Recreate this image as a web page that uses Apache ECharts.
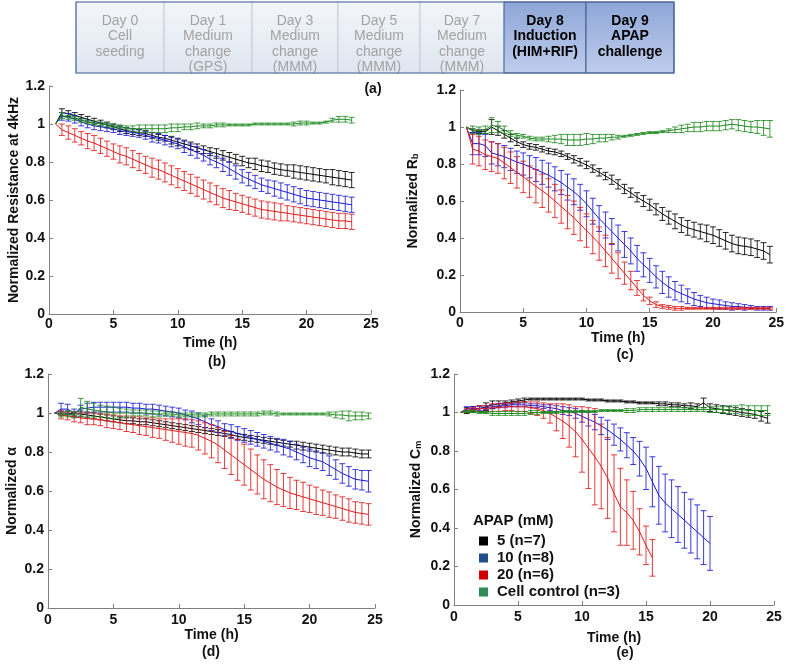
<!DOCTYPE html>
<html>
<head>
<meta charset="utf-8">
<script src="https://cdn.jsdelivr.net/npm/echarts@6/dist/echarts.min.js"></script>
<style>html,body{margin:0;padding:0;background:#fff;}#c{width:787px;height:669px;}</style>
</head>
<body>
<div id="c"></div>
<script>
// ---------- DATA ----------
const tFull = [0.5,1,1.5,2,2.5,3,3.5,4,4.5,5,
  5.5,6,6.5,7,7.5,8,8.5,9,9.5,10,
  10.5,11,11.5,12,12.5,13,13.5,14,14.5,15,
  15.5,16,16.5,17,17.5,18,18.5,19,19.5,20,
  20.5,21,21.5,22,22.5,23,23.5,24,24.5];

const seriesNames = ['5 (n=7)','10 (n=8)','20 (n=6)','Cell control (n=3)'];
const stages = [
  ['Day 0','Cell','seeding'],
  ['Day 1','Medium','change','(GPS)'],
  ['Day 3','Medium','change','(MMM)'],
  ['Day 5','Medium','change','(MMM)'],
  ['Day 7','Medium','change','(MMM)'],
  ['Day 8','Induction','(HIM+RIF)'],
  ['Day 9','APAP','challenge']
];
const xTicks = [0,5,10,15,20,25];
const yTicks = [0,0.2,0.4,0.6,0.8,1,1.2];

// (b) Normalized resistance at 4 kHz, 0.5..23.5 h
const b_black = [1.00,1.06,1.055,1.045,1.035,1.025,1.015,1.005,0.995,0.985,
  0.975,0.965,0.96,0.955,0.95,0.94,0.93,0.925,0.915,0.905,
  0.895,0.885,0.875,0.865,0.855,0.845,0.835,0.825,0.815,0.805,
  0.795,0.79,0.78,0.775,0.765,0.76,0.755,0.75,0.745,0.74,
  0.735,0.73,0.725,0.72,0.715,0.71,0.705];
const b_black_err = [0,0.02,0.015,0.015,0.015,0.015,0.015,0.015,0.015,0.015,
  0.015,0.015,0.015,0.015,0.015,0.015,0.015,0.015,0.02,0.02,
  0.02,0.02,0.02,0.02,0.02,0.025,0.025,0.025,0.025,0.025,
  0.025,0.03,0.03,0.03,0.03,0.03,0.03,0.035,0.035,0.035,
  0.035,0.035,0.035,0.04,0.04,0.04,0.04];
const b_blue = [1.00,1.04,1.035,1.025,1.01,1.0,0.99,0.985,0.98,0.975,
  0.965,0.96,0.955,0.95,0.94,0.93,0.925,0.915,0.905,0.895,
  0.88,0.865,0.85,0.835,0.815,0.8,0.785,0.765,0.745,0.725,
  0.71,0.695,0.68,0.67,0.66,0.65,0.64,0.63,0.62,0.61,
  0.605,0.6,0.595,0.59,0.585,0.58,0.575];
const b_blue_err = [0,0.02,0.02,0.02,0.02,0.02,0.02,0.02,0.02,0.02,
  0.02,0.02,0.02,0.02,0.02,0.025,0.025,0.025,0.025,0.025,
  0.03,0.03,0.03,0.03,0.03,0.03,0.035,0.035,0.035,0.035,
  0.035,0.035,0.035,0.035,0.04,0.04,0.04,0.04,0.04,0.04,
  0.04,0.04,0.04,0.04,0.04,0.04,0.04];
const b_red = [1.00,0.97,0.955,0.94,0.925,0.91,0.9,0.885,0.87,0.855,
  0.84,0.83,0.815,0.8,0.785,0.77,0.76,0.745,0.73,0.715,
  0.7,0.685,0.67,0.655,0.64,0.625,0.61,0.6,0.59,0.58,
  0.57,0.56,0.55,0.545,0.54,0.535,0.53,0.525,0.52,0.515,
  0.51,0.505,0.5,0.495,0.49,0.49,0.485];
const b_red_err = [0,0.03,0.035,0.035,0.035,0.04,0.04,0.04,0.04,0.04,
  0.045,0.045,0.045,0.045,0.045,0.05,0.05,0.05,0.05,0.05,
  0.05,0.05,0.05,0.05,0.05,0.05,0.05,0.05,0.045,0.045,
  0.045,0.045,0.045,0.045,0.045,0.045,0.04,0.04,0.04,0.04,
  0.04,0.04,0.04,0.04,0.04,0.04,0.04];
const b_green = [1.00,1.045,1.035,1.03,1.02,1.01,1.005,1.0,0.995,0.99,
  0.985,0.98,0.975,0.975,0.975,0.975,0.975,0.975,0.98,0.98,
  0.985,0.985,0.99,0.99,0.99,0.995,0.995,0.995,0.995,0.995,
  0.995,1.0,1.0,1.0,1.0,1.0,1.0,1.0,1.005,1.005,
  1.005,1.005,1.01,1.02,1.025,1.025,1.02];
const b_green_err = [0,0.015,0.01,0.01,0.01,0.01,0.01,0.01,0.01,0.01,
  0.01,0.01,0.015,0.02,0.02,0.02,0.02,0.02,0.02,0.02,
  0.015,0.015,0.015,0.01,0.01,0.01,0.01,0.005,0.005,0.005,
  0.005,0.005,0.005,0.005,0.005,0.005,0.005,0.01,0.01,0.01,
  0.005,0.005,0.005,0.01,0.015,0.015,0.015];

// (c) Normalized Rb, 0.5..24.5 h
const c_black = [1.00,0.98,0.975,0.975,1.0,0.98,0.96,0.94,0.92,0.905,
  0.895,0.89,0.88,0.87,0.865,0.855,0.84,0.825,0.81,0.795,
  0.775,0.755,0.735,0.715,0.69,0.665,0.645,0.62,0.6,0.58,
  0.555,0.53,0.51,0.49,0.47,0.455,0.445,0.435,0.425,0.415,
  0.4,0.385,0.37,0.36,0.355,0.35,0.34,0.33,0.31];
const c_black_err = [0,0.01,0.01,0.01,0.04,0.025,0.02,0.02,0.02,0.015,
  0.015,0.015,0.015,0.015,0.015,0.015,0.015,0.02,0.02,0.02,
  0.02,0.02,0.02,0.025,0.025,0.025,0.025,0.025,0.03,0.03,
  0.03,0.035,0.035,0.04,0.04,0.04,0.04,0.04,0.045,0.045,
  0.045,0.045,0.045,0.045,0.045,0.045,0.045,0.045,0.045];
const c_blue = [1.00,0.91,0.91,0.9,0.86,0.85,0.84,0.825,0.81,0.8,
  0.785,0.77,0.755,0.74,0.72,0.7,0.675,0.65,0.62,0.585,
  0.545,0.505,0.47,0.435,0.4,0.365,0.33,0.29,0.255,0.225,
  0.19,0.16,0.135,0.115,0.1,0.085,0.07,0.06,0.05,0.045,
  0.04,0.035,0.03,0.03,0.025,0.025,0.02,0.02,0.02];
const c_blue_err = [0,0.06,0.06,0.06,0.06,0.06,0.06,0.06,0.06,0.06,
  0.06,0.065,0.065,0.065,0.065,0.065,0.07,0.07,0.07,0.07,
  0.07,0.07,0.07,0.07,0.07,0.07,0.07,0.07,0.065,0.065,
  0.06,0.06,0.055,0.05,0.045,0.04,0.035,0.03,0.03,0.025,
  0.025,0.02,0.02,0.015,0.015,0.01,0.01,0.01,0.01];
const c_red = [1.00,0.88,0.87,0.85,0.84,0.83,0.805,0.78,0.755,0.73,
  0.705,0.68,0.655,0.63,0.6,0.57,0.54,0.51,0.475,0.44,
  0.405,0.37,0.33,0.29,0.25,0.21,0.17,0.13,0.09,0.06,
  0.04,0.03,0.025,0.02,0.02,0.02,0.02,0.02,0.02,0.02,
  0.02,0.02,0.02,0.02,0.02,0.02,0.02,0.02,0.02];
const c_red_err = [0,0.08,0.08,0.08,0.08,0.08,0.085,0.085,0.085,0.085,
  0.085,0.09,0.09,0.09,0.09,0.09,0.09,0.09,0.09,0.09,
  0.09,0.09,0.085,0.08,0.07,0.06,0.05,0.04,0.03,0.02,
  0.015,0.01,0.01,0.01,0.01,0.005,0.005,0.005,0.005,0.005,
  0.005,0.005,0.005,0.005,0.005,0.005,0.005,0.005,0.005];
const c_green = [1.00,0.985,0.98,0.985,1.01,1.0,0.985,0.965,0.955,0.95,
  0.94,0.935,0.935,0.935,0.935,0.935,0.93,0.93,0.93,0.935,
  0.935,0.94,0.94,0.945,0.945,0.95,0.955,0.96,0.965,0.97,
  0.97,0.975,0.98,0.985,0.99,0.995,1.0,1.0,1.005,1.005,
  1.005,1.01,1.015,1.01,1.005,1.0,1.0,0.995,0.99];
const c_green_err = [0,0.02,0.02,0.02,0.04,0.03,0.02,0.015,0.01,0.01,
  0.01,0.01,0.01,0.015,0.02,0.025,0.03,0.03,0.03,0.03,
  0.025,0.02,0.02,0.015,0.01,0.005,0.005,0.005,0.005,0.005,
  0.005,0.005,0.01,0.015,0.02,0.02,0.025,0.025,0.025,0.025,
  0.025,0.025,0.025,0.03,0.03,0.03,0.035,0.04,0.045];

// (d) Normalized alpha, 0.5..24.5 h
const d_black = [1.00,1.0,1.0,0.995,0.995,0.99,0.985,0.98,0.975,0.97,
  0.965,0.96,0.96,0.955,0.955,0.95,0.945,0.94,0.935,0.93,
  0.925,0.92,0.915,0.91,0.905,0.9,0.895,0.89,0.88,0.875,
  0.87,0.865,0.86,0.855,0.85,0.845,0.84,0.835,0.83,0.825,
  0.82,0.815,0.81,0.805,0.8,0.8,0.795,0.79,0.79];
const d_black_err = [0,0.01,0.01,0.01,0.015,0.015,0.015,0.015,0.015,0.015,
  0.015,0.015,0.015,0.015,0.015,0.015,0.015,0.015,0.015,0.015,
  0.015,0.015,0.015,0.015,0.015,0.015,0.015,0.015,0.015,0.015,
  0.015,0.015,0.015,0.015,0.015,0.015,0.015,0.02,0.02,0.02,
  0.02,0.02,0.02,0.02,0.02,0.02,0.02,0.02,0.02];
const d_blue = [1.00,1.02,1.02,1.0,1.02,1.025,1.03,1.03,1.03,1.03,
  1.03,1.03,1.025,1.025,1.02,1.02,1.015,1.01,1.005,1.0,
  0.99,0.98,0.97,0.955,0.94,0.93,0.915,0.905,0.895,0.885,
  0.875,0.865,0.855,0.845,0.835,0.825,0.815,0.8,0.785,0.77,
  0.76,0.75,0.73,0.71,0.69,0.675,0.66,0.655,0.65];
const d_blue_err = [0,0.03,0.025,0.02,0.02,0.025,0.025,0.025,0.025,0.025,
  0.025,0.025,0.025,0.025,0.025,0.025,0.025,0.025,0.025,0.025,
  0.025,0.03,0.03,0.03,0.03,0.03,0.03,0.035,0.035,0.035,
  0.035,0.035,0.035,0.035,0.035,0.04,0.04,0.04,0.04,0.045,
  0.045,0.045,0.05,0.05,0.05,0.05,0.05,0.05,0.055];
const d_red = [1.00,0.99,0.985,0.98,0.975,0.97,0.97,0.965,0.96,0.955,
  0.95,0.945,0.94,0.935,0.93,0.925,0.92,0.915,0.91,0.905,
  0.9,0.895,0.885,0.87,0.855,0.835,0.81,0.785,0.76,0.735,
  0.71,0.685,0.66,0.64,0.62,0.605,0.59,0.58,0.57,0.56,
  0.55,0.54,0.53,0.52,0.51,0.5,0.49,0.485,0.48];
const d_red_err = [0,0.02,0.02,0.025,0.025,0.03,0.03,0.03,0.035,0.035,
  0.035,0.04,0.04,0.045,0.045,0.05,0.05,0.055,0.06,0.065,
  0.07,0.07,0.075,0.08,0.085,0.09,0.095,0.1,0.105,0.105,
  0.105,0.1,0.1,0.095,0.09,0.085,0.08,0.075,0.075,0.07,
  0.07,0.065,0.065,0.06,0.06,0.06,0.055,0.055,0.055];
const d_green = [1.00,0.99,0.995,0.99,1.03,1.02,1.015,1.01,1.005,1.0,
  1.0,1.0,1.0,1.0,1.0,0.995,0.995,0.995,0.995,0.99,
  0.99,0.99,0.99,0.99,0.995,0.995,0.995,0.995,0.995,0.995,
  0.995,0.995,1.0,1.0,0.995,0.995,0.995,0.995,0.995,0.995,
  0.995,0.995,0.995,0.99,0.99,0.985,0.985,0.985,0.985];
const d_green_err = [0,0.01,0.015,0.015,0.045,0.04,0.035,0.03,0.03,0.03,
  0.025,0.02,0.015,0.015,0.015,0.015,0.015,0.01,0.01,0.01,
  0.01,0.01,0.01,0.01,0.01,0.01,0.01,0.01,0.01,0.01,
  0.01,0.01,0.01,0.01,0.01,0.005,0.005,0.005,0.005,0.005,
  0.005,0.005,0.01,0.015,0.02,0.025,0.02,0.02,0.015];

// (e) Normalized Cm
const e_black = [1.00,1.01,1.015,1.02,1.03,1.04,1.045,1.05,1.055,1.06,
  1.065,1.07,1.07,1.07,1.07,1.07,1.07,1.07,1.07,1.07,
  1.065,1.065,1.065,1.06,1.06,1.06,1.055,1.055,1.05,1.05,
  1.05,1.045,1.045,1.04,1.04,1.035,1.035,1.03,1.05,1.025,
  1.02,1.015,1.01,1.005,1.0,0.995,0.99,0.98,0.97];
const e_black_err = [0,0.015,0.015,0.015,0.02,0.02,0.015,0.01,0.01,0.01,
  0.01,0.005,0.005,0.005,0.005,0.005,0.005,0.005,0.005,0.005,
  0.005,0.005,0.005,0.005,0.005,0.005,0.005,0.005,0.005,0.005,
  0.005,0.01,0.01,0.01,0.01,0.01,0.015,0.015,0.025,0.02,
  0.02,0.02,0.02,0.02,0.02,0.02,0.02,0.025,0.025];
const e_blue = [1.00,1.02,1.02,1.02,1.025,1.03,1.035,1.035,1.04,1.04,
  1.04,1.035,1.035,1.03,1.025,1.02,1.01,1.005,0.995,0.98,
  0.965,0.95,0.93,0.91,0.885,0.86,0.83,0.8,0.76,0.71,
  0.64,0.57,0.53,0.5,0.47,0.44,0.41,0.38,0.35,0.32];
const e_blue_err = [0,0.01,0.01,0.01,0.01,0.01,0.01,0.01,0.01,0.01,
  0.01,0.01,0.01,0.01,0.015,0.015,0.02,0.02,0.025,0.03,
  0.035,0.04,0.045,0.05,0.055,0.06,0.065,0.07,0.09,0.11,
  0.13,0.15,0.15,0.15,0.145,0.145,0.14,0.14,0.14,0.14];
const e_red = [1.00,1.01,1.015,1.02,1.02,1.025,1.025,1.03,1.03,1.03,
  1.03,1.025,1.02,1.01,0.995,0.975,0.955,0.93,0.9,0.86,
  0.815,0.77,0.72,0.66,0.58,0.51,0.48,0.44,0.38,0.31,
  0.245];
const e_red_err = [0,0.01,0.01,0.015,0.015,0.02,0.02,0.02,0.02,0.025,
  0.025,0.03,0.035,0.04,0.05,0.07,0.09,0.11,0.13,0.17,
  0.21,0.25,0.22,0.21,0.2,0.2,0.17,0.15,0.12,0.1,
  0.095];
const e_green = [1.00,1.005,1.005,1.0,1.0,0.995,0.995,0.995,0.995,0.995,
  0.995,1.0,1.0,1.0,1.0,1.0,1.005,1.005,1.005,1.005,
  1.005,1.005,1.01,1.01,1.01,1.01,1.01,1.01,1.015,1.015,
  1.015,1.015,1.015,1.015,1.015,1.015,1.015,1.015,1.015,1.015,
  1.015,1.015,1.015,1.015,1.015,1.01,1.01,1.01,1.01];
const e_green_err = [0,0.005,0.005,0.005,0.005,0.01,0.01,0.01,0.01,0.01,
  0.01,0.01,0.01,0.005,0.005,0.005,0.005,0.005,0.005,0.005,
  0.005,0.005,0.005,0.005,0.005,0.005,0.01,0.01,0.01,0.01,
  0.01,0.01,0.01,0.01,0.01,0.01,0.01,0.01,0.01,0.015,
  0.015,0.015,0.02,0.02,0.025,0.025,0.025,0.025,0.025];

// ---------- STYLE ----------
const FONT = '"Liberation Sans", Arial, Helvetica, sans-serif';
const COL = ['#000000', '#1a1ad6', '#e01b1b', '#1e8a1e'];
const LEG_COL = ['#000000', '#1f4e8c', '#d00000', '#2e8b57'];
const AXC = '#808080';

const grids = [
  {left:49, top:86, width:322, height:228},
  {left:460, top:90, width:318, height:222},
  {left:48, top:374, width:327, height:234},
  {left:454, top:374, width:320, height:231}
];
const yNames = ['Normalized Resistance at 4kHz', 'Normalized R{sub|b}', 'Normalized \u03b1', 'Normalized C{sub|m}'];
const yGaps = [28, 40, 29, 31];
const xNameGaps = [22, 18, 18, 26];
const xLabelMargins = [3, 4, 5, 5];

const panels = [
  [[b_black,b_black_err],[b_blue,b_blue_err],[b_red,b_red_err],[b_green,b_green_err]],
  [[c_black,c_black_err],[c_blue,c_blue_err],[c_red,c_red_err],[c_green,c_green_err]],
  [[d_black,d_black_err],[d_blue,d_blue_err],[d_red,d_red_err],[d_green,d_green_err]],
  [[e_black,e_black_err],[e_blue,e_blue_err],[e_red,e_red_err],[e_green,e_green_err]]
];

const xAxes = grids.map((g, i) => ({
  type:'value', gridIndex:i, min:xTicks[0], max:xTicks[xTicks.length-1], interval:5,
  name:'Time (h)', nameLocation:'middle', nameGap:xNameGaps[i],
  nameTextStyle:{fontFamily:FONT, fontWeight:'bold', fontSize:14, color:'#111'},
  axisLine:{lineStyle:{color:AXC, width:1}},
  axisTick:{inside:true, length:4, lineStyle:{color:AXC}},
  axisLabel:{fontFamily:FONT, fontWeight:'bold', fontSize:14, color:'#111', margin:xLabelMargins[i]},
  splitLine:{show:false}
}));
const yAxes = grids.map((g, i) => ({
  type:'value', gridIndex:i, min:yTicks[0], max:yTicks[yTicks.length-1], interval:0.2,
  name:yNames[i], nameLocation:'middle', nameGap:yGaps[i],
  nameTextStyle:{fontFamily:FONT, fontWeight:'bold', fontSize:14, color:'#111',
    rich:{sub:{fontFamily:FONT, fontWeight:'bold', fontSize:9, color:'#111', verticalAlign:'bottom', lineHeight:14, padding:[6,0,0,0]}}},
  axisLine:{show:true, lineStyle:{color:AXC, width:1}},
  axisTick:{show:true, inside:true, length:4, lineStyle:{color:AXC}},
  axisLabel:{fontFamily:FONT, fontWeight:'bold', fontSize:14, color:'#111', margin:4},
  splitLine:{show:false}
}));

function errRender(color) {
  return function (params, api) {
    const x = api.value(0), y = api.value(1), e = api.value(2);
    if (!e) return {type:'group', children:[]};
    const lo = api.coord([x, y - e]);
    const hi = api.coord([x, y + e]);
    const w = 3;
    const st = {stroke:color, lineWidth:1, opacity:0.85};
    return {type:'group', children:[
      {type:'line', shape:{x1:lo[0], y1:lo[1], x2:hi[0], y2:hi[1]}, style:st},
      {type:'line', shape:{x1:lo[0]-w, y1:lo[1], x2:lo[0]+w, y2:lo[1]}, style:st},
      {type:'line', shape:{x1:hi[0]-w, y1:hi[1], x2:hi[0]+w, y2:hi[1]}, style:st}
    ]};
  };
}

const series = [];
panels.forEach((sets, pi) => {
  sets.forEach((s, si) => {
    const vals = s[0], errs = s[1];
    series.push({
      type:'line', name:seriesNames[si], xAxisIndex:pi, yAxisIndex:pi,
      data: vals.map((v, i) => [tFull[i], v]),
      showSymbol:false, symbol:'none', animation:false,
      lineStyle:{color:COL[si], width:1}, itemStyle:{color:COL[si]}, z:2+si
    });
    series.push({
      type:'custom', name:seriesNames[si], xAxisIndex:pi, yAxisIndex:pi,
      data: vals.map((v, i) => [tFull[i], v, errs[i] || 0]),
      renderItem: errRender(COL[si]), clip:false, animation:false, silent:true,
      itemStyle:{color:COL[si]}, encode:{x:0, y:1}, z:2+si
    });
  });
});

// ---------- GRAPHIC: timeline + panel labels ----------
const edges = [76,164,252,338,420,504,586,674];
const boxTop = 2, boxBottom = 73;
const graphics = [];
stages.forEach((lines, i) => {
  const dark = i >= 5;
  graphics.push({
    type:'rect', z:1,
    shape:{x:edges[i], y:boxTop, width:edges[i+1]-edges[i], height:boxBottom-boxTop},
    style:{
      fill: dark ? new echarts.graphic.LinearGradient(0,0,0,1,[{offset:0,color:'#8ea6d7'},{offset:1,color:'#bfcdec'}])
                 : new echarts.graphic.LinearGradient(0,0,0,1,[{offset:0,color:'#f3f6fa'},{offset:1,color:'#dfe6f0'}]),
      stroke: dark ? '#3d5d8f' : '#c5cdd9', lineWidth:1
    }
  });
  graphics.push({
    type:'text', z:3,
    x:(edges[i]+edges[i+1])/2, y:13,
    style:{
      text: lines.join('\n'), textAlign:'center', textVerticalAlign:'top',
      font: (dark ? 'bold 14px ' : '14px ') + FONT, lineHeight:15.5,
      fill: dark ? '#000' : '#a3a3a3'
    }
  });
});
graphics.push({type:'rect', z:4, shape:{x:edges[0], y:boxTop, width:edges[7]-edges[0], height:boxBottom-boxTop},
  style:{fill:'none', stroke:'#4a6a9c', lineWidth:1.2}});

const panelLabels = [['(a)',373,89],['(b)',217,362],['(c)',625,355],['(d)',211,652],['(e)',625,653]];
panelLabels.forEach(p => graphics.push({type:'text', z:5, x:p[1], y:p[2],
  style:{text:p[0], textAlign:'center', textVerticalAlign:'middle', font:'bold 14px ' + FONT, fill:'#111'}}));
graphics.push({type:'text', z:5, x:473, y:521,
  style:{text:'APAP (mM)', textAlign:'left', textVerticalAlign:'middle', font:'bold 15px ' + FONT, fill:'#111'}});

const chart = echarts.init(document.getElementById('c'), null, {renderer:'canvas'});
chart.setOption({
  animation:false,
  backgroundColor:'#fff',
  grid: grids.map(g => Object.assign({containLabel:false}, g)),
  xAxis: xAxes,
  yAxis: yAxes,
  legend: {
    left:474, top:528, orient:'vertical', icon:'rect', itemWidth:9, itemHeight:9, itemGap:1,
    selectedMode:false,
    textStyle:{fontFamily:FONT, fontWeight:'bold', fontSize:15, color:'#111', lineHeight:16, padding:[0,0,0,4]},
    data: seriesNames.map((n, i) => ({name:n, icon:'rect', itemStyle:{color:LEG_COL[i]}}))
  },
  graphic: graphics,
  series: series
});
</script>
</body>
</html>
